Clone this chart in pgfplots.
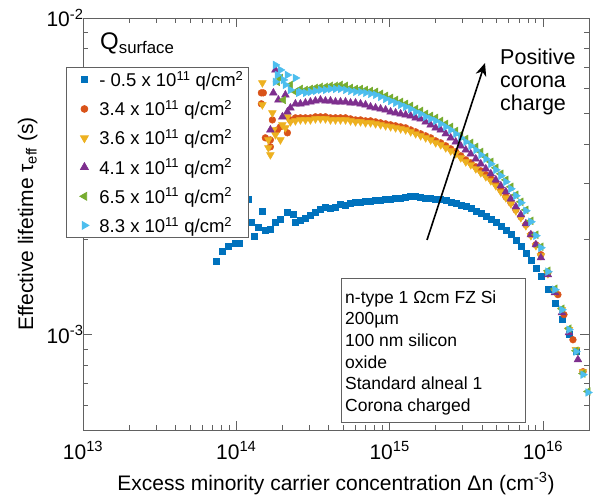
\documentclass[border=0pt]{standalone}
\usepackage{fontspec}
\setmainfont{Liberation Sans}
\usepackage{pgfplots}
\pgfplotsset{compat=1.18}
\usetikzlibrary{arrows.meta}

\definecolor{mblue}{rgb}{0,0.447,0.741}
\definecolor{morange}{rgb}{0.851,0.325,0.098}
\definecolor{myellow}{rgb}{0.929,0.694,0.125}
\definecolor{mpurple}{rgb}{0.494,0.184,0.556}
\definecolor{mgreen}{rgb}{0.466,0.674,0.188}
\definecolor{mcyan}{rgb}{0.301,0.745,0.933}
\definecolor{axisgray}{rgb}{0.38,0.38,0.38}

\begin{document}
\begin{tikzpicture}
\begin{axis}[
    xmode=log, ymode=log,
    xmin=1e13, xmax=2e16, ymin=5e-4, ymax=1e-2,
    scale only axis, width=506pt, height=412pt,
    clip=false,
    axis line style={draw=axisgray, line width=0.9pt},
    every tick/.style={axisgray, line width=0.8pt},
    major tick length=9pt, minor tick length=5pt,
    tick align=inside,
    tick label style={font=\fontsize{21}{25}\selectfont},
    xticklabel={\pgfmathtruncatemacro{\ee}{round(\tick/ln(10))}10\textsuperscript{\ee}},
    yticklabel={\pgfmathtruncatemacro{\ee}{round(\tick/ln(10))}10\textsuperscript{\ee}},
    xticklabel style={anchor=base, yshift=-29pt},
    yticklabel style={xshift=4pt},
    xlabel={Excess minority carrier concentration Δn (cm\textsuperscript{-3})},
    ylabel={Effective lifetime τ\textsubscript{eff} (s)},
    label style={font=\fontsize{21}{25}\selectfont},
    xlabel style={at={(axis description cs:0.5,-0.1456)}, anchor=base},
    ylabel style={at={(axis description cs:-0.0988,0.5)}, anchor=base},
    legend style={at={(axis description cs:-0.0336,0.881)}, anchor=north west,
        draw=axisgray, fill=white, line width=0.8pt,
        font=\fontsize{18.5}{22}\selectfont, row sep=8.3pt},
    legend image code/.code={\path[draw=none, fill=none] (0pt,0pt) -- (28pt,0pt); \draw[#1] plot[only marks] coordinates {(15pt,0pt)};},
    legend cell align=left,
]

% -0.5e11
\addplot[only marks, mark=square*, mark size=3pt, color=mblue] coordinates {
(7.40e13,1.712e-3) (8.09e13,1.83e-3) (8.87e13,1.90e-3) (9.84e13,1.94e-3) (1.05e14,1.94e-3) (1.20e14,2.67e-3) (1.25e14,2.26e-3) (1.31e14,2.04e-3) (1.39e14,2.19e-3) (1.48e14,2.46e-3) (1.55e14,2.14e-3) (1.67e14,2.16e-3) (1.80e14,2.26e-3) (1.94e14,2.32e-3) (2.15e14,2.44e-3) (2.36e14,2.41e-3) (2.43e14,2.27e-3)
(2.620e14,2.305e-3) (2.825e14,2.340e-3) (3.045e14,2.392e-3) (3.283e14,2.444e-3) (3.540e14,2.498e-3) (3.816e14,2.535e-3) (4.114e14,2.516e-3) (4.436e14,2.535e-3) (4.782e14,2.591e-3) (5.156e14,2.573e-3) (5.559e14,2.610e-3) (5.993e14,2.629e-3) (6.461e14,2.629e-3) (6.966e14,2.647e-3) (7.510e14,2.647e-3) (8.097e14,2.666e-3) (8.730e14,2.666e-3) (9.416e14,2.686e-3) (1.015e15,2.686e-3) (1.094e15,2.706e-3) (1.180e15,2.706e-3) (1.272e15,2.726e-3) (1.372e15,2.746e-3) (1.479e15,2.746e-3) (1.594e15,2.726e-3) (1.719e15,2.706e-3) (1.853e15,2.706e-3) (1.998e15,2.686e-3) (2.154e15,2.686e-3) (2.323e15,2.666e-3) (2.504e15,2.629e-3) (2.700e15,2.610e-3) (2.911e15,2.573e-3) (3.139e15,2.554e-3) (3.384e15,2.516e-3) (3.649e15,2.462e-3) (3.934e15,2.427e-3) (4.241e15,2.375e-3) (4.573e15,2.322e-3) (4.930e15,2.273e-3) (5.315e15,2.208e-3) (5.731e15,2.144e-3) (6.179e15,2.069e-3) (6.662e15,1.994e-3) (7.182e15,1.910e-3) (7.744e15,1.815e-3) (8.349e15,1.724e-3) (9.001e15,1.627e-3) (9.704e15,1.525e-3) (1.078e16,1.387e-3) (1.198e16,1.253e-3) (1.331e16,1.123e-3) (1.479e16,1.000e-3) (1.643e16,0.884e-3)
};
\addlegendentry{- 0.5 x 10\textsuperscript{11} q/cm\textsuperscript{2}}

% 3.4e11
\addplot[only marks, mark=*, mark size=3.4pt, color=morange] coordinates {
(1.457e14,5.803e-3) (1.457e14,5.358e-3) (1.501e14,5.803e-3) (1.547e14,4.184e-3) (1.668e14,4.122e-3) (1.668e14,3.920e-3) (1.940e14,4.533e-3) (2.154e14,4.340e-3) (1.719e14,4.767e-3) (1.854e14,4.433e-3) (2.254e14,4.767e-3) (2.430e14,4.839e-3)
(2.620e14,4.839e-3) (2.825e14,4.839e-3) (3.045e14,4.839e-3) (3.283e14,4.875e-3) (3.540e14,4.875e-3) (3.816e14,4.875e-3) (4.114e14,4.839e-3) (4.436e14,4.839e-3) (4.782e14,4.839e-3) (5.156e14,4.839e-3) (5.559e14,4.803e-3) (5.993e14,4.767e-3) (6.461e14,4.767e-3) (6.966e14,4.734e-3) (7.510e14,4.734e-3) (8.097e14,4.700e-3) (8.730e14,4.667e-3) (9.416e14,4.633e-3) (1.015e15,4.600e-3) (1.094e15,4.567e-3) (1.180e15,4.533e-3) (1.272e15,4.500e-3) (1.372e15,4.433e-3) (1.479e15,4.371e-3) (1.594e15,4.309e-3) (1.719e15,4.246e-3) (1.853e15,4.184e-3) (1.998e15,4.093e-3) (2.154e15,4.035e-3) (2.323e15,3.949e-3) (2.504e15,3.862e-3) (2.700e15,3.779e-3) (2.911e15,3.672e-3) (3.139e15,3.564e-3) (3.384e15,3.489e-3) (3.649e15,3.390e-3) (3.934e15,3.292e-3) (4.241e15,3.199e-3) (4.573e15,3.106e-3) (4.930e15,2.997e-3) (5.315e15,2.867e-3) (5.731e15,2.726e-3) (6.179e15,2.610e-3) (6.662e15,2.479e-3) (7.182e15,2.357e-3) (7.744e15,2.225e-3) (8.349e15,2.069e-3) (9.001e15,1.924e-3) (9.704e15,1.789e-3) (1.078e16,1.570e-3) (1.253e16,1.338e-3) (1.372e16,1.157e-3) (1.571e16,0.964e-3) (1.826e16,0.764e-3)
};
\addlegendentry{3.4 x 10\textsuperscript{11} q/cm\textsuperscript{2}}

% 3.6e11
\addplot[only marks, mark=triangle*, mark size=4.5pt, mark options={rotate=180}, color=myellow] coordinates {
(1.479e14,6.240e-3) (1.479e14,5.319e-3) (1.719e14,5.018e-3) (1.745e14,4.433e-3) (1.619e14,4.122e-3) (1.619e14,3.891e-3) (1.668e14,3.699e-3) (1.940e14,4.122e-3) (2.154e14,4.875e-3) (1.998e14,4.600e-3) (1.799e14,4.278e-3) (2.090e14,4.500e-3) (2.254e14,4.700e-3) (2.430e14,4.734e-3)
(2.620e14,4.767e-3) (2.825e14,4.767e-3) (3.045e14,4.767e-3) (3.283e14,4.803e-3) (3.540e14,4.803e-3) (3.816e14,4.803e-3) (4.114e14,4.767e-3) (4.436e14,4.767e-3) (4.782e14,4.767e-3) (5.156e14,4.767e-3) (5.559e14,4.734e-3) (5.993e14,4.700e-3) (6.461e14,4.700e-3) (6.966e14,4.667e-3) (7.510e14,4.667e-3) (8.097e14,4.633e-3) (8.730e14,4.600e-3) (9.416e14,4.567e-3) (1.015e15,4.533e-3) (1.094e15,4.500e-3) (1.180e15,4.466e-3) (1.272e15,4.433e-3) (1.372e15,4.371e-3) (1.479e15,4.309e-3) (1.594e15,4.246e-3) (1.719e15,4.184e-3) (1.853e15,4.122e-3) (1.998e15,4.035e-3) (2.154e15,3.978e-3) (2.323e15,3.891e-3) (2.504e15,3.806e-3) (2.700e15,3.725e-3) (2.911e15,3.618e-3) (3.139e15,3.514e-3) (3.384e15,3.440e-3) (3.649e15,3.340e-3) (3.934e15,3.245e-3) (4.241e15,3.153e-3) (4.573e15,3.061e-3) (4.930e15,2.953e-3) (5.315e15,2.827e-3) (5.731e15,2.706e-3) (6.179e15,2.591e-3) (6.662e15,2.462e-3) (7.182e15,2.340e-3) (7.744e15,2.208e-3) (8.349e15,2.054e-3) (9.001e15,1.910e-3) (9.704e15,1.776e-3) (1.078e16,1.558e-3) (1.198e16,1.367e-3) (1.331e16,1.199e-3) (1.479e16,1.037e-3) (1.643e16,0.897e-3) (1.826e16,0.764e-3)
};
\addlegendentry{3.6 x 10\textsuperscript{11} q/cm\textsuperscript{2}}

% 4.1e11
\addplot[only marks, mark=triangle*, mark size=4.5pt, color=mpurple] coordinates {
(1.799e14,6.855e-3) (1.745e14,5.803e-3) (1.668e14,4.433e-3) (1.998e14,4.875e-3) (2.254e14,5.203e-3) (2.154e14,5.054e-3) (1.882e14,5.512e-3) (2.090e14,5.720e-3) (2.430e14,5.358e-3)
(2.620e14,5.358e-3) (2.825e14,5.396e-3) (3.045e14,5.435e-3) (3.283e14,5.473e-3) (3.540e14,5.512e-3) (3.816e14,5.473e-3) (4.114e14,5.473e-3) (4.436e14,5.435e-3) (4.782e14,5.435e-3) (5.156e14,5.435e-3) (5.559e14,5.396e-3) (5.993e14,5.396e-3) (6.461e14,5.358e-3) (6.966e14,5.319e-3) (7.510e14,5.242e-3) (8.097e14,5.203e-3) (8.730e14,5.165e-3) (9.416e14,5.126e-3) (1.015e15,5.054e-3) (1.094e15,5.018e-3) (1.180e15,4.982e-3) (1.272e15,4.947e-3) (1.372e15,4.911e-3) (1.479e15,4.839e-3) (1.594e15,4.803e-3) (1.719e15,4.700e-3) (1.853e15,4.600e-3) (1.998e15,4.500e-3) (2.154e15,4.433e-3) (2.323e15,4.309e-3) (2.504e15,4.184e-3) (2.700e15,4.064e-3) (2.911e15,3.949e-3) (3.139e15,3.833e-3) (3.384e15,3.725e-3) (3.649e15,3.591e-3) (3.934e15,3.464e-3) (4.241e15,3.340e-3) (4.573e15,3.222e-3) (4.930e15,3.083e-3) (5.315e15,2.953e-3) (5.731e15,2.827e-3) (6.179e15,2.686e-3) (6.662e15,2.535e-3) (7.182e15,2.392e-3) (7.744e15,2.241e-3) (8.349e15,2.069e-3) (9.001e15,1.924e-3) (9.704e15,1.750e-3) (1.078e16,1.547e-3) (1.198e16,1.358e-3) (1.331e16,1.174e-3) (1.479e16,1.015e-3) (1.693e16,0.834e-3)
};
\addlegendentry{4.1 x 10\textsuperscript{11} q/cm\textsuperscript{2}}

% 6.5e11
\addplot[only marks, mark=triangle*, mark size=4.5pt, mark options={rotate=90}, color=mgreen] coordinates {
(1.854e14,6.285e-3) (2.029e14,5.512e-3) (2.430e14,5.845e-3) (2.254e14,6.151e-3) (1.940e14,6.466e-3)
(2.620e14,5.973e-3) (2.825e14,5.928e-3) (3.045e14,5.973e-3) (3.283e14,6.017e-3) (3.540e14,6.062e-3) (3.816e14,6.062e-3) (4.114e14,6.107e-3) (4.436e14,6.107e-3) (4.782e14,6.151e-3) (5.156e14,6.107e-3) (5.559e14,6.017e-3) (5.993e14,5.973e-3) (6.461e14,5.973e-3) (6.966e14,5.928e-3) (7.510e14,5.886e-3) (8.097e14,5.845e-3) (8.730e14,5.762e-3) (9.416e14,5.678e-3) (1.015e15,5.595e-3) (1.094e15,5.512e-3) (1.180e15,5.435e-3) (1.272e15,5.358e-3) (1.372e15,5.280e-3) (1.479e15,5.165e-3) (1.594e15,5.090e-3) (1.719e15,4.982e-3) (1.853e15,4.911e-3) (1.998e15,4.839e-3) (2.154e15,4.734e-3) (2.323e15,4.633e-3) (2.504e15,4.533e-3) (2.700e15,4.402e-3) (2.911e15,4.278e-3) (3.139e15,4.153e-3) (3.384e15,4.035e-3) (3.649e15,3.920e-3) (3.934e15,3.779e-3) (4.241e15,3.645e-3) (4.573e15,3.514e-3) (4.930e15,3.365e-3) (5.315e15,3.222e-3) (5.731e15,3.083e-3) (6.179e15,2.932e-3) (6.662e15,2.766e-3) (7.182e15,2.629e-3) (7.744e15,2.479e-3) (8.349e15,2.289e-3) (9.001e15,2.069e-3) (9.704e15,1.896e-3) (1.078e16,1.592e-3) (1.198e16,1.397e-3) (1.331e16,1.208e-3) (1.479e16,1.045e-3) (1.643e16,0.890e-3) (1.826e16,0.754e-3) (1.968e16,0.662e-3)
};
\addlegendentry{6.5 x 10\textsuperscript{11} q/cm\textsuperscript{2}}

% 8.3e11
\addplot[only marks, mark=triangle*, mark size=4.5pt, mark options={rotate=-90}, color=mcyan] coordinates {
(1.799e14,7.109e-3) (1.854e14,6.608e-3) (2.154e14,6.608e-3) (2.430e14,6.466e-3) (1.799e14,6.285e-3) (2.090e14,6.151e-3) (2.254e14,5.928e-3) (1.940e14,6.855e-3) (2.029e14,6.374e-3) (2.543e14,5.803e-3)
(2.620e14,5.845e-3) (2.825e14,5.803e-3) (3.045e14,5.845e-3) (3.283e14,5.886e-3) (3.540e14,5.928e-3) (3.816e14,5.928e-3) (4.114e14,5.973e-3) (4.436e14,5.973e-3) (4.782e14,5.973e-3) (5.156e14,5.928e-3) (5.559e14,5.886e-3) (5.993e14,5.845e-3) (6.461e14,5.845e-3) (6.966e14,5.803e-3) (7.510e14,5.762e-3) (8.097e14,5.720e-3) (8.730e14,5.637e-3) (9.416e14,5.554e-3) (1.015e15,5.473e-3) (1.094e15,5.396e-3) (1.180e15,5.319e-3) (1.272e15,5.242e-3) (1.372e15,5.165e-3) (1.479e15,5.054e-3) (1.594e15,4.982e-3) (1.719e15,4.875e-3) (1.853e15,4.803e-3) (1.998e15,4.734e-3) (2.154e15,4.633e-3) (2.323e15,4.533e-3) (2.504e15,4.433e-3) (2.700e15,4.309e-3) (2.911e15,4.184e-3) (3.139e15,4.064e-3) (3.384e15,3.949e-3) (3.649e15,3.833e-3) (3.934e15,3.699e-3) (4.241e15,3.591e-3) (4.573e15,3.464e-3) (4.930e15,3.315e-3) (5.315e15,3.176e-3) (5.731e15,3.040e-3) (6.179e15,2.889e-3) (6.662e15,2.746e-3) (7.182e15,2.610e-3) (7.744e15,2.462e-3) (8.349e15,2.273e-3) (9.001e15,2.054e-3) (9.704e15,1.882e-3) (1.078e16,1.581e-3) (1.198e16,1.387e-3) (1.331e16,1.199e-3) (1.479e16,1.037e-3) (1.643e16,0.884e-3) (1.826e16,0.748e-3) (1.968e16,0.657e-3)
};
\addlegendentry{8.3 x 10\textsuperscript{11} q/cm\textsuperscript{2}}

\end{axis}

% annotations, 1pt = 1px of the reference, origin at the axis' lower left corner
\begin{scope}[shift={(current axis.south west)}, x=1pt, y=1pt]
\node[anchor=base west, inner sep=0pt, font=\fontsize{24}{28}\selectfont] at (17,380) {Q\textsubscript{surface}};
\draw[line width=1.6pt, -{Stealth[length=13pt, width=11pt]}] (344,190) -- (402,367);
\node[anchor=north west, inner sep=0pt, align=left, font=\fontsize{21.5}{23}\selectfont] at (417,381) {Positive\\corona\\charge};
\draw[axisgray, line width=0.8pt, fill=white] (258,152) rectangle (442,8);
\node[anchor=north west, inner sep=0pt, align=left, font=\fontsize{17.5}{21.6}\selectfont] at (262,139.5)
  {n-type 1 Ωcm FZ Si\\200µm\\100 nm silicon\\oxide\\Standard alneal 1\\Corona charged};
\end{scope}
\pgfresetboundingbox
\begin{scope}[shift={(current axis.south west)}, x=1pt, y=1pt]
\path[use as bounding box] (-83,-70) rectangle (521,430);
\end{scope}
\end{tikzpicture}
\end{document}
